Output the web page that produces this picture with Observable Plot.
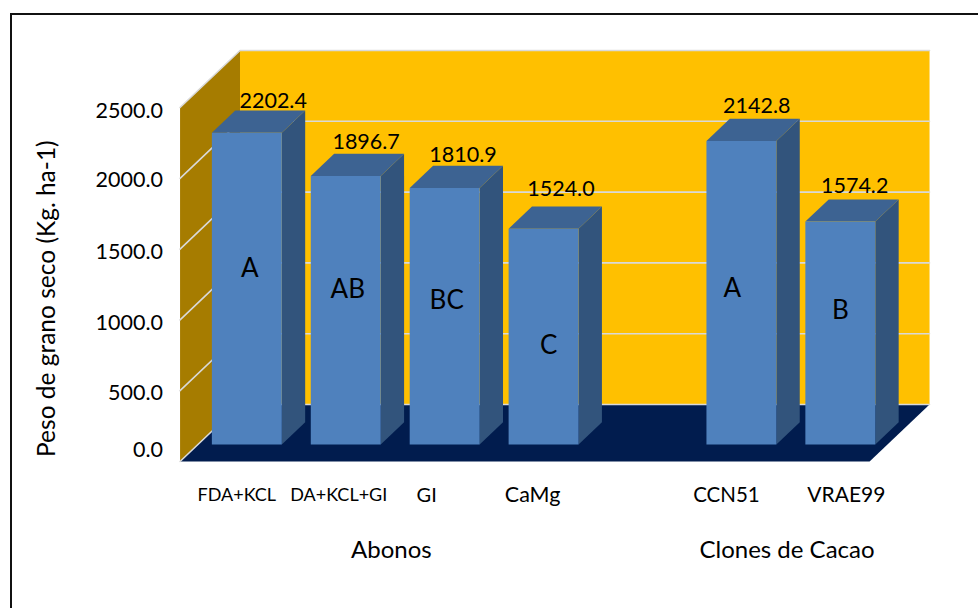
<!DOCTYPE html>
<html lang="es">
<head>
<meta charset="utf-8">
<script src="https://cdn.jsdelivr.net/npm/d3@7"></script>
<script src="https://cdn.jsdelivr.net/npm/@observablehq/plot@0.6"></script>
<style>
  html, body { margin: 0; padding: 0; background: #fff; }
  #chart { position: absolute; left: 0; top: 0; width: 978px; height: 608px; overflow: hidden; }
  #frame { position: absolute; left: 10px; top: 13px; width: 980px; height: 620px;
           border-top: 2.5px solid #111; border-left: 2.5px solid #111; }
  svg { display: block; }
</style>
</head>
<body>
<div id="chart"><div id="frame"></div></div>
<script>
// Yield of dry cocoa bean by fertiliser treatment and by clone
const categories = ["FDA+KCL", "DA+KCL+GI", "GI", "CaMg", "CCN51", "VRAE99"];
const yields = [2202.4, 1896.7, 1810.9, 1524.0, 2142.8, 1574.2];
const letters = ["A", "AB", "BC", "C", "A", "B"];
const slots = [0, 1, 2, 3, 5, 6];
const yTicks = [0, 500, 1000, 1500, 2000, 2500];
const groups = [
  {name: "Abonos", slot: 1.5},
  {name: "Clones de Cacao", slot: 5.5}
];

// Fine placement of the text beside each bar, in pixels
const valueNudge = [[3, -9], [-3, -12], [-5, -11], [-6, -17], [-8, -13], [-9, -13]];
const letterNudge = [[3, -20], [2, -21], [2, -16], [5, 9], [-9, -4], [0, -22]];
const categoryStyle = [[-10, 18], [-7, 18], [-18, 20], [-11, 21.5], [-15, 20.5], [6, 21]];
const tickNudge = [-11, 2, 3, 3, 2, 4];

// Oblique projection: depth z in [0, 1] slides a point up and to the right
const depthX = 0.606;
const depthY = 402.5;
const project = (x, v, z) => ({x: x + depthX * z, y: v + depthY * z});
const poly = (...corners) => corners.map(([x, v, z]) => project(x, v, z));

const barWidth = 0.707;
const barZ0 = 0.298;
const barZ1 = 0.688;
const xLeft = -0.141;
const xRight = 6.83;
const yTop = 2500;

const face = (points, fill) =>
  Plot.line(points, {x: "x", y: "y", fill, stroke: "none", curve: "linear-closed"});

const wallFaces = [
  face(poly([xLeft, 0, 1], [xRight, 0, 1], [xRight, yTop, 1], [xLeft, yTop, 1]), "#ffc000"),
  face(poly([xLeft, 0, 0], [xLeft, 0, 1], [xLeft, yTop, 1], [xLeft, yTop, 0]), "#a67c00"),
  face(poly([xLeft, 0, 0], [xRight, 0, 0], [xRight, 0, 1], [xLeft, 0, 1]), "#011c4e")
];

const gridLines = yTicks.map((v) =>
  Plot.line(poly([xLeft, v, 0], [xLeft, v, 1], [xRight, v, 1]), {
    x: "x", y: "y", stroke: "#d9d9d9", strokeWidth: 1.6
  })
);

const barFaces = slots.flatMap((s, i) => {
  const v = yields[i];
  const l = s, r = s + barWidth;
  return [
    face(poly([r, 0, barZ0], [r, 0, barZ1], [r, v, barZ1], [r, v, barZ0]), "#32547c"),
    face(poly([l, v, barZ0], [r, v, barZ0], [r, v, barZ1], [l, v, barZ1]), "#3d6392"),
    face(poly([l, 0, barZ0], [r, 0, barZ0], [r, v, barZ0], [l, v, barZ0]), "#4f81bd")
  ];
});

const font = {fontFamily: "Lato, 'Open Sans', sans-serif", fill: "#000"};

const tickLabels = yTicks.map((v, i) =>
  Plot.text([v], {
    x: () => xLeft, y: (d) => d, text: (d) => d.toFixed(1),
    textAnchor: "end", dx: -17, dy: tickNudge[i], fontSize: 21.5, ...font
  })
);

const valueLabels = slots.map((s, i) => {
  const p = project(s + barWidth / 2, yields[i], barZ1);
  return Plot.text([yields[i]], {
    x: () => p.x, y: () => p.y, text: (d) => d.toFixed(1),
    dx: valueNudge[i][0], dy: valueNudge[i][1], fontSize: 21.5, ...font
  });
});

const letterLabels = slots.map((s, i) => {
  const p = project(s + barWidth / 2, yields[i] / 2, barZ0);
  return Plot.text([letters[i]], {
    x: () => p.x, y: () => p.y, text: (d) => d,
    dx: letterNudge[i][0], dy: letterNudge[i][1], fontSize: 26, ...font
  });
});

const categoryLabels = slots.map((s, i) => {
  const p = project(s + barWidth / 2, 0, barZ0);
  return Plot.text([categories[i]], {
    x: () => p.x, y: () => 0, text: (d) => d,
    dx: categoryStyle[i][0], dy: 34, fontSize: categoryStyle[i][1], ...font
  });
});

const groupLabels = groups.map((g) =>
  Plot.text([g.name], {
    x: () => g.slot + barWidth / 2, y: () => 0, text: (d) => d,
    dx: 14, dy: 89, fontSize: 24, ...font
  })
);

const yTitle = Plot.text(["Peso de grano seco (Kg. ha-1)"], {
  x: () => xLeft, y: () => 1150, text: (d) => d,
  rotate: -90, dx: -133, fontSize: 24.5, ...font
});

const plot = Plot.plot({
  width: 978,
  height: 608,
  margin: 0,
  style: {background: "transparent", overflow: "visible"},
  x: {type: "linear", domain: [0, 6], range: [193.5, 787], axis: null},
  y: {type: "linear", domain: [0, 2500], range: [461, 107], axis: null},
  marks: [
    ...wallFaces,
    ...gridLines,
    ...barFaces,
    ...tickLabels,
    ...valueLabels,
    ...letterLabels,
    ...categoryLabels,
    ...groupLabels,
    yTitle
  ]
});
document.getElementById("chart").appendChild(plot);
plot.style.position = "absolute";
plot.style.left = "0";
plot.style.top = "0";
</script>
</body>
</html>
